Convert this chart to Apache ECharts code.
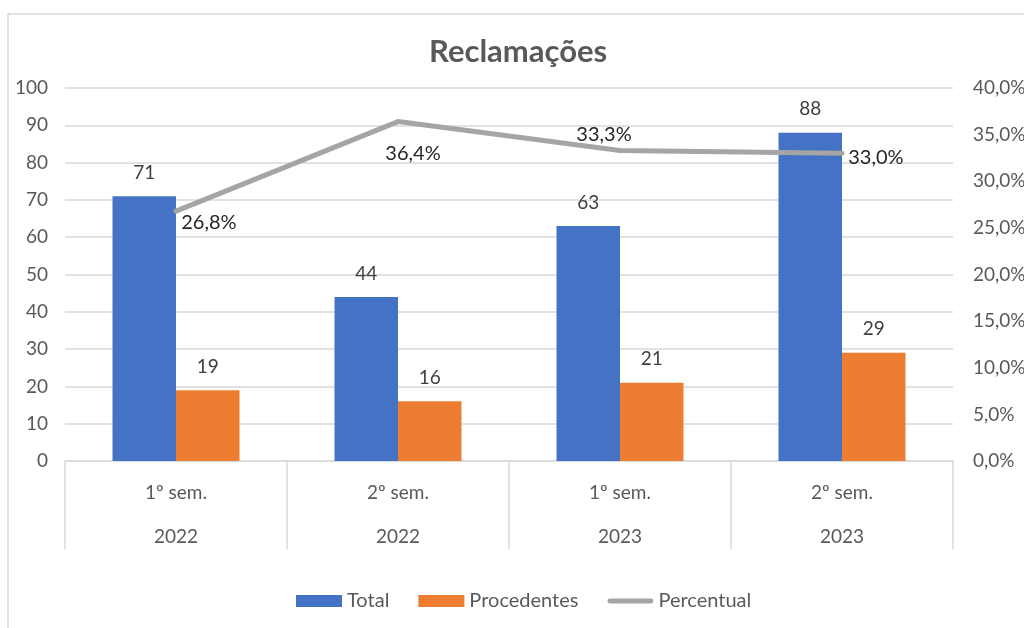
<!DOCTYPE html>
<html><head><meta charset="utf-8">
<script src="https://cdn.jsdelivr.net/npm/echarts@6/dist/echarts.min.js"></script>
<style>html,body{margin:0;padding:0;background:#fff}#c{width:1024px;height:628px}</style>
</head><body><div id="c"></div>
<script>
var semesters = ['1º sem.', '2º sem.', '1º sem.', '2º sem.'];
var years = ['2022', '2022', '2023', '2023'];
var total = [71, 44, 63, 88];
var procedentes = [19, 16, 21, 29];
var percentual = [26.8, 36.4, 33.3, 33.0];
var leftTicks = [0, 100, 10];
var rightTicks = [0, 40, 5];

var categories = semesters.map(function (s, i) { return s + '\n' + years[i]; });
var FONT = 'Lato';
// label placement for line labels (style only)
var lineLabelStyle = [
  { position: 'right', offset: [-1, 11] },
  { position: 'bottom', offset: [15, 16] },
  { position: 'top', offset: [-16, 0] },
  { position: 'right', offset: [0, 4] }
];
var lineData = percentual.map(function (v, i) {
  return { value: v, label: lineLabelStyle[i] };
});
function pct(v) { return v.toFixed(1).replace('.', ',') + '%'; }

var chart = echarts.init(document.getElementById('c'));
chart.setOption({
  animation: false,
  textStyle: { fontFamily: FONT },
  graphic: [{
    type: 'rect', silent: true,
    shape: { x: 8, y: 14, width: 1200, height: 800 },
    style: { fill: 'none', stroke: '#d9d9d9', lineWidth: 1.5 }
  }],
  title: {
    text: 'Reclamações', left: 429, top: 36, padding: 0,
    textStyle: { fontFamily: FONT, fontWeight: 'bold', fontSize: 31, color: '#595959' }
  },
  legend: {
    bottom: 12, left: 291, itemWidth: 46, itemHeight: 12, itemGap: 29,
    textStyle: { fontFamily: FONT, fontSize: 20, color: '#595959' },
    data: [
      { name: 'Total', icon: 'rect' },
      { name: 'Procedentes', icon: 'rect' },
      { name: 'Percentual', icon: 'path://M2,0h42a2.5,2.5 0 0 1 0,5h-42a2.5,2.5 0 0 1 0,-5z' }
    ]
  },
  grid: { left: 65, right: 71, top: 88, bottom: 167, containLabel: false, outerBoundsMode: 'none' },
  xAxis: {
    type: 'category', data: categories,
    axisLine: { lineStyle: { color: '#d9d9d9', width: 1.5 } },
    axisTick: { show: true, length: 88, interval: 0, lineStyle: { color: '#d9d9d9', width: 1.5 } },
    axisLabel: { interval: 0, margin: 10, lineHeight: 44, fontSize: 19, color: '#595959', fontFamily: FONT }
  },
  yAxis: [{
    type: 'value', min: leftTicks[0], max: leftTicks[1], interval: leftTicks[2],
    axisLine: { show: false }, axisTick: { show: false },
    splitLine: { lineStyle: { color: '#d9d9d9', width: 1.5 } },
    axisLabel: { fontSize: 19, color: '#595959', margin: 17, fontFamily: FONT }
  }, {
    type: 'value', min: rightTicks[0], max: rightTicks[1], interval: rightTicks[2],
    axisLine: { show: false }, axisTick: { show: false }, splitLine: { show: false },
    axisLabel: { fontSize: 19, color: '#595959', margin: 20, fontFamily: FONT, align: 'left',
      formatter: function (v) { return pct(v); } }
  }],
  series: [{
    name: 'Total', type: 'bar', data: total, barGap: '0%', barCategoryGap: '42.8%',
    itemStyle: { color: '#4472C4' },
    label: { show: true, position: 'top', distance: 14, fontSize: 19, color: '#404040', fontFamily: FONT }
  }, {
    name: 'Procedentes', type: 'bar', data: procedentes,
    itemStyle: { color: '#ED7D31' },
    label: { show: true, position: 'top', distance: 14, fontSize: 19, color: '#404040', fontFamily: FONT }
  }, {
    name: 'Percentual', type: 'line', yAxisIndex: 1, data: lineData,
    symbol: 'circle', symbolSize: 0.5, showSymbol: true, z: 5,
    lineStyle: { color: '#A5A5A5', width: 5, cap: 'round', join: 'round' },
    itemStyle: { color: '#A5A5A5' },
    label: { show: true, fontSize: 20, color: '#262626', fontFamily: FONT, distance: 6,
      formatter: function (p) { return pct(p.value); } }
  }]
});
</script></body></html>
